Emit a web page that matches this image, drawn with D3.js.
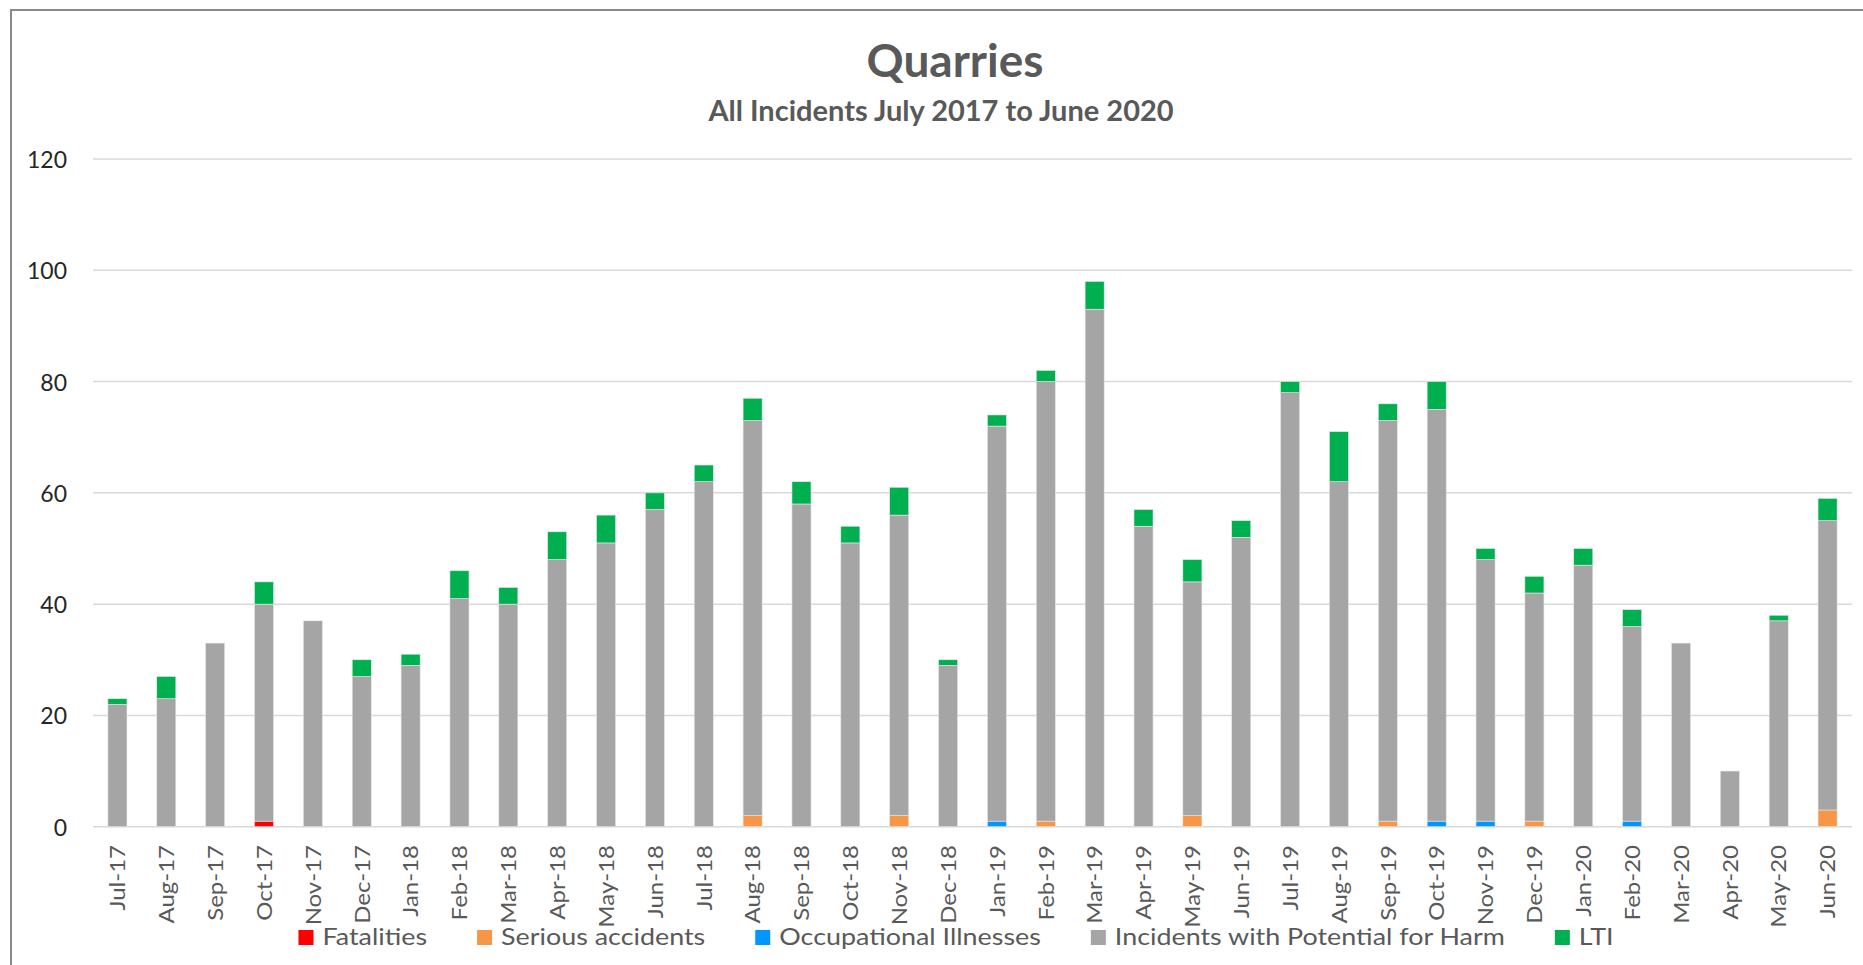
<!DOCTYPE html>
<html>
<head>
<meta charset="utf-8">
<script src="https://cdn.jsdelivr.net/npm/d3@7"></script>
<style>
  html, body { margin: 0; padding: 0; background: #fff; }
  svg { display: block; font-family: Lato, "Open Sans", sans-serif; }
</style>
</head>
<body>
<svg id="chart" width="1863" height="965"></svg>
<script>
// ------------------------------------------------------------------
// data

const months = ["Jul-17", "Aug-17", "Sep-17", "Oct-17", "Nov-17", "Dec-17",
    "Jan-18", "Feb-18", "Mar-18", "Apr-18", "May-18", "Jun-18",
    "Jul-18", "Aug-18", "Sep-18", "Oct-18", "Nov-18", "Dec-18",
    "Jan-19", "Feb-19", "Mar-19", "Apr-19", "May-19", "Jun-19",
    "Jul-19", "Aug-19", "Sep-19", "Oct-19", "Nov-19", "Dec-19",
    "Jan-20", "Feb-20", "Mar-20", "Apr-20", "May-20", "Jun-20"];

const fatalities = [0, 0, 0, 1, 0, 0, 0, 0, 0, 0, 0, 0,
    0, 0, 0, 0, 0, 0, 0, 0, 0, 0, 0, 0,
    0, 0, 0, 0, 0, 0, 0, 0, 0, 0, 0, 0];

const seriousAccidents = [0, 0, 0, 0, 0, 0, 0, 0, 0, 0, 0, 0,
    0, 2, 0, 0, 2, 0, 0, 1, 0, 0, 2, 0,
    0, 0, 1, 0, 0, 1, 0, 0, 0, 0, 0, 3];

const occupationalIllnesses = [0, 0, 0, 0, 0, 0, 0, 0, 0, 0, 0, 0,
    0, 0, 0, 0, 0, 0, 1, 0, 0, 0, 0, 0,
    0, 0, 0, 1, 1, 0, 0, 1, 0, 0, 0, 0];

const potentialForHarm = [22, 23, 33, 39, 37, 27, 29, 41, 40, 48, 51, 57,
    62, 71, 58, 51, 54, 29, 71, 79, 93, 54, 42, 52,
    78, 62, 72, 74, 47, 41, 47, 35, 33, 10, 37, 52];

const lti = [1, 4, 0, 4, 0, 3, 2, 5, 3, 5, 5, 3,
    3, 4, 4, 3, 5, 1, 2, 2, 5, 3, 4, 3,
    2, 9, 3, 5, 2, 3, 3, 3, 0, 0, 1, 4];

const seriesNames = ["Fatalities", "Serious accidents", "Occupational Illnesses",
    "Incidents with Potential for Harm", "LTI"];
const seriesColors = ["#ff0000", "#f79646", "#0096ff", "#a5a5a5", "#00b050"];

const yTicks = [0, 20, 40, 60, 80, 100, 120];

// ------------------------------------------------------------------
// build rows for the stack

const seriesValues = [fatalities, seriousAccidents, occupationalIllnesses, potentialForHarm, lti];
const rows = months.map((m, i) => {
    const row = { month: m };
    seriesNames.forEach((s, k) => { row[s] = seriesValues[k][i]; });
    return row;
});

const svg = d3.select("#chart");
const width = +svg.attr("width");
const height = +svg.attr("height");

// chart border (right and bottom edges fall outside the picture)
svg.append("rect")
    .attr("x", 11).attr("y", 10)
    .attr("width", width + 20).attr("height", height + 20)
    .attr("fill", "#fff")
    .attr("stroke", "#898989")
    .attr("stroke-width", 2);

const plot = { left: 93, right: 1852, top: 159, bottom: 826.7 };

const x = d3.scaleBand()
    .domain(months)
    .range([plot.left, plot.right])
    .paddingInner(0.61)
    .paddingOuter(0.305);

const y = d3.scaleLinear()
    .domain([0, 120])
    .range([plot.bottom, plot.top]);

// gridlines
svg.append("g")
    .selectAll("line")
    .data(yTicks)
    .join("line")
    .attr("x1", plot.left)
    .attr("x2", plot.right)
    .attr("y1", d => y(d))
    .attr("y2", d => y(d))
    .attr("stroke", "#d9d9d9")
    .attr("stroke-width", 1.5);

// y labels
svg.append("g")
    .selectAll("text")
    .data(yTicks)
    .join("text")
    .attr("x", 67)
    .attr("y", d => y(d))
    .attr("text-anchor", "end")
    .attr("dominant-baseline", "central")
    .attr("font-size", 23)
    .attr("fill", "#262626")
    .text(d => d);

// stacked bars
const stack = d3.stack().keys(seriesNames);
const layers = stack(rows);

svg.append("g")
    .selectAll("g")
    .data(layers)
    .join("g")
    .attr("fill", (d, i) => seriesColors[i])
    .selectAll("rect")
    .data(d => d.filter(v => v[1] > v[0]))
    .join("rect")
    .attr("x", d => x(d.data.month))
    .attr("width", x.bandwidth())
    .attr("y", d => y(d[1]))
    .attr("height", d => y(d[0]) - y(d[1]))
    .attr("stroke", "#e6e6e6")
    .attr("stroke-width", 0.6);

// x labels, rotated (glyphs a little narrow, as in the picture)
svg.append("g")
    .selectAll("text")
    .data(months)
    .join("text")
    .attr("transform", d => `translate(${x(d) + x.bandwidth() / 2},845) rotate(-90) scale(1,0.85)`)
    .attr("text-anchor", "end")
    .attr("dominant-baseline", "central")
    .attr("font-size", 24)
    .attr("fill", "#595959")
    .text(d => d);

// titles
svg.append("text")
    .attr("x", 955).attr("y", 77)
    .attr("text-anchor", "middle")
    .attr("font-size", 46)
    .attr("font-weight", "bold")
    .attr("fill", "#595959")
    .text("Quarries");

svg.append("text")
    .attr("x", 941).attr("y", 121)
    .attr("text-anchor", "middle")
    .attr("font-size", 29)
    .attr("font-weight", "bold")
    .attr("fill", "#595959")
    .text("All Incidents July 2017 to June 2020");

// legend, laid out from measured text widths and centred
const legendStretch = 1.12;
const legend = svg.append("g");
const items = legend.selectAll("g")
    .data(seriesNames)
    .join("g");

items.append("rect")
    .attr("width", 15)
    .attr("height", 15)
    .attr("y", 930)
    .attr("fill", (d, i) => seriesColors[i]);

items.append("text")
    .attr("transform", `translate(24,945) scale(${legendStretch},1)`)
    .attr("font-size", 24)
    .attr("fill", "#595959")
    .text(d => d);

let cursor = 0;
items.each(function () {
    const g = d3.select(this);
    g.attr("transform", `translate(${cursor},0)`);
    cursor += 24 + g.select("text").node().getComputedTextLength() * legendStretch + 50;
});
const legendWidth = cursor - 50;
legend.attr("transform", `translate(${956 - legendWidth / 2},0)`);
</script>
</body>
</html>
